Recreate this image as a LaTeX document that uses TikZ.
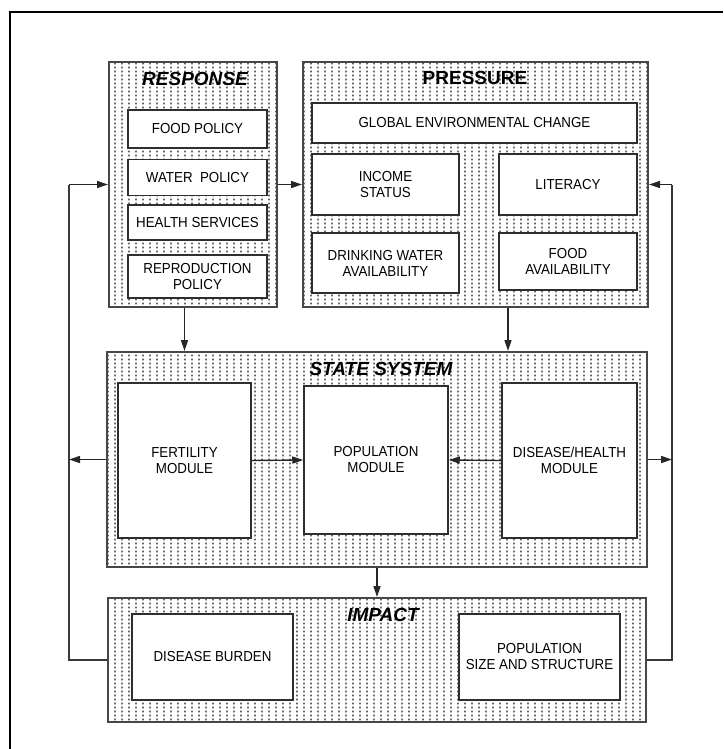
\documentclass[tikz,border=0pt]{standalone}
\usepackage{fontspec}
\setmainfont{Liberation Sans}
\newfontfamily\boxfam[FakeStretch=0.92]{Liberation Sans}
\usetikzlibrary{arrows.meta,patterns.meta,calc}

% columns of small dots used as the group background
\tikzdeclarepattern{
  name=colgrid,
  type=uncolored,
  bounding box={(0pt,0pt) and (7pt,4pt)},
  tile size={(7pt,4pt)},
  code={\pgfpathrectangle{\pgfpoint{2.5pt}{0.9pt}}{\pgfpoint{1.8pt}{2.2pt}}\pgfusepath{fill}}
}

\begin{document}
\begin{tikzpicture}[x=1pt,y=-1pt,
  size/.style 2 args={minimum width=#1pt, minimum height=#2pt},
  group/.style={rectangle, draw=black!72, line width=2pt, pattern=colgrid,
    pattern color=black!60, inner sep=0pt},
  item/.style={rectangle, draw=black!82, line width=1.5pt, fill=white,
    inner sep=0pt, align=center,
    font=\boxfam\fontsize{14.5}{16}\selectfont},
  title/.style={inner sep=0pt, font=\bfseries\itshape\fontsize{19}{21}\selectfont},
  titleup/.style={inner sep=0pt, font=\bfseries\fontsize{19}{21}\selectfont},
  link/.style={draw=black!85, line width=1.4pt, -{Triangle[length=11pt,width=7pt]}},
  loopline/.style={draw=black!78, line width=1.8pt},
  frame/.style={draw=black, line width=2.2pt}]

\useasboundingbox (0,0) rectangle (723,749);

% page frame, open on the right and at the bottom
\draw[frame] (723,12) -- (10,12) -- (10,749);

% group boxes
\node[group, size={168}{245}] (resp) at (193,184.5) {};
\node[group, size={345}{245}] (press) at (475.5,184.5) {};
\node[group, size={540}{215}] (state) at (377,459.5) {};
\node[group, size={538}{124}] (impact) at (377,660) {};

% group titles
\node[title] (respT) at (195,78.5) {RESPONSE};
\node[titleup] (pressT) at (475,78) {PRESSURE};
\node[title] (stateT) at (381,369) {STATE SYSTEM};
\node[title] (impT) at (383,615) {IMPACT};

% response items
\node[item, size={139}{38}] (food) at (197.5,129) {FOOD POLICY};
\node[item, size={139}{36}] (water) at (197.5,177.5) {WATER\ \ POLICY};
\node[item, size={139}{35}] (health) at (197.5,222.5) {HEALTH SERVICES};
\node[item, size={139}{43}] (repro) at (197.5,276.5) {REPRODUCTION\\POLICY};

% pressure items
\node[item, size={325}{40}] (global) at (474.5,123) {GLOBAL ENVIRONMENTAL CHANGE};
\node[item, size={147}{61}] (income) at (385.5,184.5) {INCOME\\STATUS};
\node[item, size={138}{61}] (literacy) at (568,184.5) {LITERACY};
\node[item, size={147}{60}] (drink) at (385.5,263) {DRINKING WATER\\AVAILABILITY};
\node[item, size={138}{57}] (foodav) at (568,261.5) {FOOD\\AVAILABILITY};

% state system modules
\node[item, size={133}{155}] (fert) at (184.5,460.5) {FERTILITY\\MODULE};
\node[item, size={144}{148}] (pop) at (376,460) {POPULATION\\MODULE};
\node[item, size={135}{155}] (dis) at (569.5,460.5) {DISEASE/HEALTH\\MODULE};

% impact items
\node[item, size={161}{86}] (burden) at (212.5,657) {DISEASE BURDEN};
\node[item, size={161}{86}] (popsize) at (539.5,657) {POPULATION\\SIZE AND STRUCTURE};

% feedback corners and the drop point under the pressure group
\coordinate (lt) at (69,184.5);
\coordinate (rt) at (672,184.5);
\coordinate (pdrop) at ($(press.south)+(32.5,0)$);

% flows between groups
\draw[link] (resp.east) -- (press.west);
\draw[link] (resp.south -| fert.center) -- (state.north -| fert.center);
\draw[link] (pdrop) -- (pdrop |- state.north);
\draw[link] (state.south) -- (impact.north);

% flows inside the state system
\draw[link] (fert.east) -- (pop.west);
\draw[link] (dis.west) -- (pop.east);

% feedback loops
\draw[loopline] (impact.west) -| (lt);
\draw[link] (lt) -- (resp.west);
\draw[loopline] (impact.east) -| (rt);
\draw[link] (rt) -- (press.east);
\draw[link] (state.west) -- (state.west -| lt);
\draw[link] (state.east) -- (state.east -| rt);

\end{tikzpicture}
\end{document}
